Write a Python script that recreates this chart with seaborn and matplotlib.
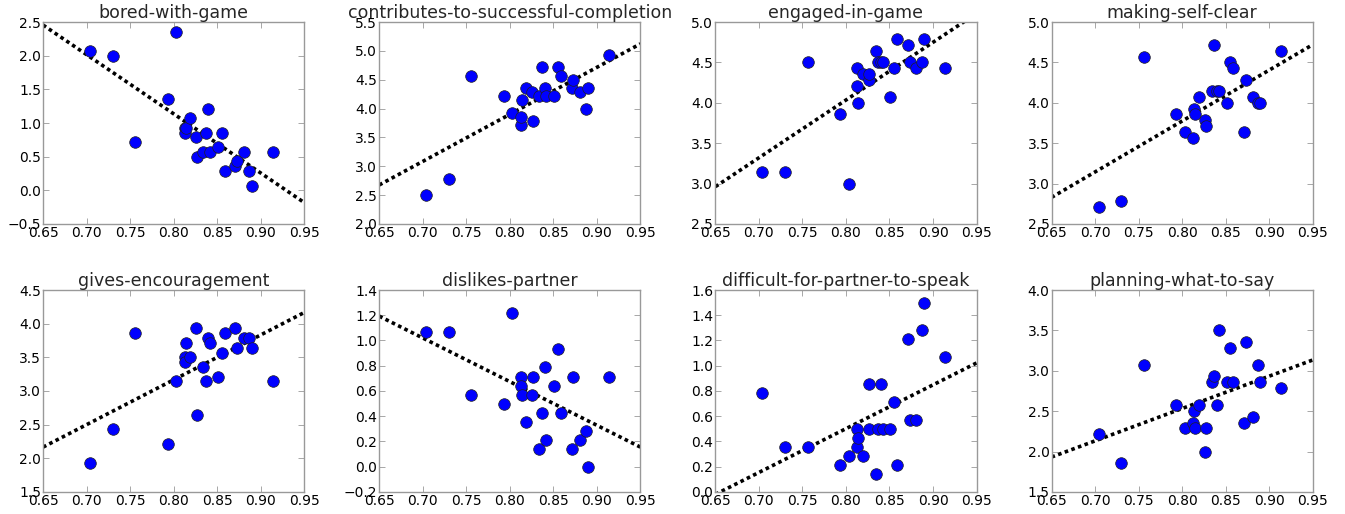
import numpy as np
import pandas as pd
import seaborn as sns
import matplotlib
matplotlib.use("Agg")
import matplotlib.pyplot as plt

# shared x values (one per dialogue / pair)
x_vals = [0.704, 0.730, 0.756, 0.793, 0.803, 0.8125, 0.8132, 0.8144, 0.819,
          0.826, 0.827, 0.834, 0.837, 0.840, 0.842, 0.851, 0.855, 0.859,
          0.871, 0.873, 0.881, 0.887, 0.890, 0.914]

titles = ["bored-with-game", "contributes-to-successful-completion",
          "engaged-in-game", "making-self-clear", "gives-encouragement",
          "dislikes-partner", "difficult-for-partner-to-speak",
          "planning-what-to-say"]

bored = [2.071, 2.0, 0.714, 1.357, 2.357, 0.929, 0.857, 0.929, 1.071,
         0.786, 0.5, 0.571, 0.857, 1.214, 0.571, 0.643, 0.857, 0.286,
         0.357, 0.429, 0.571, 0.286, 0.071, 0.571]
contributes = [2.5, 2.786, 4.571, 4.214, 3.929, 3.714, 3.857, 4.143, 4.357,
               4.286, 3.786, 4.214, 4.714, 4.357, 4.214, 4.214, 4.714, 4.571,
               4.357, 4.5, 4.286, 4.0, 4.357, 4.929]
engaged = [3.143, 3.143, 4.5, 3.857, 3.0, 4.214, 4.429, 4.0, 4.357,
           4.286, 4.357, 4.643, 4.5, 4.5, 4.5, 4.071, 4.429, 4.786,
           4.714, 4.5, 4.429, 4.5, 4.786, 4.429]
self_clear = [2.714, 2.786, 4.571, 3.857, 3.643, 3.571, 3.929, 3.857, 4.071,
              3.786, 3.714, 4.143, 4.714, 4.143, 4.143, 4.0, 4.5, 4.429,
              3.643, 4.286, 4.071, 4.0, 4.0, 4.643]
encouragement = [1.929, 2.429, 3.857, 2.214, 3.143, 3.5, 3.429, 3.714, 3.5,
                 3.929, 2.643, 3.357, 3.143, 3.786, 3.714, 3.214, 3.571, 3.857,
                 3.929, 3.643, 3.786, 3.786, 3.643, 3.143]
dislikes = [1.071, 1.071, 0.571, 0.5, 1.214, 0.714, 0.643, 0.571, 0.357,
            0.571, 0.714, 0.143, 0.429, 0.786, 0.214, 0.643, 0.929, 0.429,
            0.143, 0.714, 0.214, 0.286, 0.0, 0.714]
difficult = [0.786, 0.357, 0.357, 0.214, 0.286, 0.357, 0.5, 0.429, 0.286,
             0.5, 0.857, 0.143, 0.5, 0.857, 0.5, 0.5, 0.714, 0.214,
             1.214, 0.571, 0.571, 1.286, 1.5, 1.071]
planning = [2.214, 1.857, 3.071, 2.571, 2.286, 2.357, 2.5, 2.286, 2.571,
            2.0, 2.286, 2.857, 2.929, 2.571, 3.5, 2.857, 3.286, 2.857,
            2.357, 3.357, 2.429, 3.071, 2.857, 2.786]

series = [bored, contributes, engaged, self_clear, encouragement,
          dislikes, difficult, planning]

y_limits = [(-0.5, 2.5), (2.0, 5.5), (2.5, 5.0), (2.5, 5.0),
            (1.5, 4.5), (-0.2, 1.4), (0.0, 1.6), (1.5, 4.0)]
y_steps = [0.5, 0.5, 0.5, 0.5, 0.5, 0.2, 0.2, 0.5]
x_ticks = [0.65, 0.70, 0.75, 0.80, 0.85, 0.90, 0.95]

sns.set_style("white")
plt.rcParams["font.family"] = ["DejaVu Sans"]
plt.rcParams["axes.unicode_minus"] = True

fig, axes = plt.subplots(2, 4, figsize=(13.45, 5.14), dpi=100)
fig.subplots_adjust(left=0.032, right=0.976, top=0.957, bottom=0.043,
                    wspace=0.287, hspace=0.327)

for ax, title, ys, ylim, step in zip(axes.flat, titles, series, y_limits, y_steps):
    df = pd.DataFrame({"x": x_vals, "y": ys})
    ax.set_xlim(0.65, 0.95)
    ax.set_ylim(*ylim)
    sns.regplot(data=df, x="x", y="y", ax=ax, scatter=False, ci=None,
                truncate=False,
                line_kws=dict(color="black", lw=2.6, linestyle=(0, (1.0, 0.95)),
                              dash_capstyle="butt"))
    sns.scatterplot(data=df, x="x", y="y", ax=ax, color="#0000ff", s=70,
                    edgecolor="#202020", linewidth=0.5, zorder=3)
    ax.set_xlim(0.65, 0.95)
    ax.set_ylim(*ylim)
    ax.set_xticks(x_ticks)
    ax.set_xticklabels([f"{t:.2f}" for t in x_ticks])
    yt = np.round(np.arange(ylim[0], ylim[1] + step / 2, step), 2)
    ax.set_yticks(yt)
    ax.set_yticklabels([f"{t:.1f}".replace("-", "\u2212") for t in yt])
    ax.set_xlabel("")
    ax.set_ylabel("")
    ax.set_title(title, fontsize=12.5, pad=2)
    ax.tick_params(axis="both", which="both", direction="in", length=4,
                   width=0.6, color="#999999", labelsize=10, pad=1.5,
                   top=True, right=True, bottom=True, left=True,
                   labelcolor="black")
    for sp in ax.spines.values():
        sp.set_visible(True)
        sp.set_color("#999999")
        sp.set_linewidth(1.0)

fig.savefig("out.png", dpi=100, facecolor="white")
